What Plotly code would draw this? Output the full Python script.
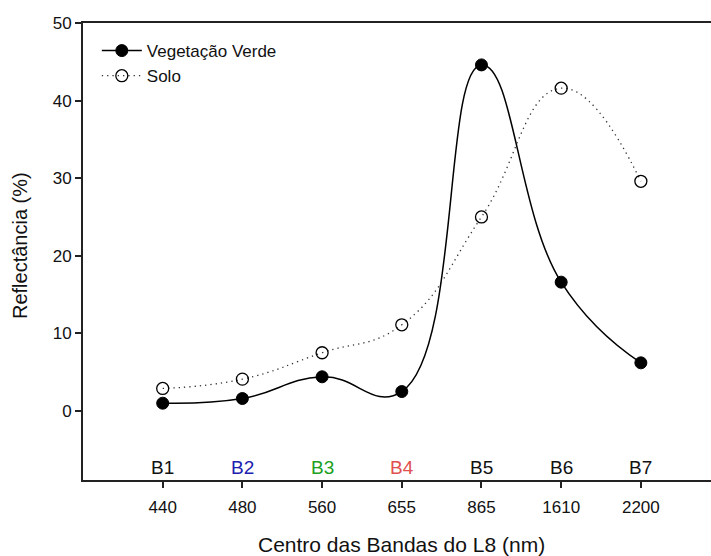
import plotly.graph_objects as go

bands = ["B1", "B2", "B3", "B4", "B5", "B6", "B7"]
band_colors = ["#111111", "#2020b0", "#20a020", "#e05050", "#111111", "#111111", "#111111"]
centers = ["440", "480", "560", "655", "865", "1610", "2200"]
positions = [1, 2, 3, 4, 5, 6, 7]
vegetacao = [1.0, 1.6, 4.4, 2.5, 44.6, 16.6, 6.2]
solo = [2.9, 4.1, 7.5, 11.1, 25.0, 41.6, 29.6]

FONT = "Liberation Sans, Arial, sans-serif"

fig = go.Figure()
fig.add_trace(go.Scatter(
    x=positions, y=vegetacao, name="Vegetação Verde", mode="lines+markers",
    line=dict(color="black", width=1.5, shape="spline", smoothing=1.3),
    marker=dict(symbol="circle", size=12, color="black", line=dict(color="black", width=1)),
))
fig.add_trace(go.Scatter(
    x=positions, y=solo, name="Solo", mode="lines+markers",
    line=dict(color="#333333", width=1.3, shape="spline", smoothing=1.3, dash="1.3px,4px"),
    marker=dict(symbol="circle-open", size=12, color="black", line=dict(color="black", width=1.3)),
))

for b, c, p in zip(bands, band_colors, positions):
    fig.add_annotation(x=p, y=0, xref="x", yref="paper", text=b, showarrow=False,
                       yanchor="bottom", yshift=0, font=dict(family=FONT, size=19, color=c))

fig.add_annotation(x=4, y=0, xref="x", yref="paper", text="Centro das Bandas do L8 (nm)",
                   showarrow=False, yanchor="middle", yshift=-64,
                   font=dict(family=FONT, size=21, color="#111111"))

fig.add_annotation(x=0, y=0.512, xref="paper", yref="paper",
                   text="Reflectância (%)", showarrow=False, textangle=-90,
                   xanchor="center", yanchor="middle", xshift=-63,
                   font=dict(family=FONT, size=20, color="#111111"))

fig.update_layout(
    width=711, height=556,
    margin=dict(l=83, r=0, t=23, b=76),
    plot_bgcolor="white", paper_bgcolor="white",
    font=dict(family=FONT, size=17, color="#111111"),
    showlegend=True,
    legend=dict(x=0.022, y=0.978, xanchor="left", yanchor="top", bgcolor="rgba(0,0,0,0)",
                font=dict(family=FONT, size=17, color="#111111"), itemwidth=40,
                tracegroupgap=0),
    xaxis=dict(range=[0, 7.88], tickvals=positions, ticktext=centers,
               showline=True, linecolor="#222222", linewidth=2, mirror=True,
               ticks="outside", ticklen=6, tickcolor="#222222", tickwidth=1.5,
               showgrid=False, zeroline=False, tickfont=dict(size=17),
               ticklabelstandoff=5),
    yaxis=dict(range=[-8.9, 50], tickvals=[0, 10, 20, 30, 40, 50],
               showline=True, linecolor="#222222", linewidth=2,
               ticks="outside", ticklen=6, tickcolor="#222222", tickwidth=1.5,
               showgrid=False, zeroline=False, tickfont=dict(size=17)),
)

fig.write_html("out.html")
